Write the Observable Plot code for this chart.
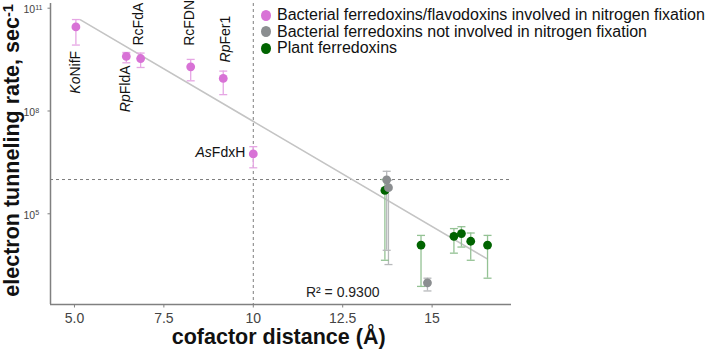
<!DOCTYPE html>
<html>
<head>
<meta charset="utf-8">
<script src="https://cdn.jsdelivr.net/npm/d3@7"></script>
<script src="https://cdn.jsdelivr.net/npm/@observablehq/plot@0.6"></script>
<style>
  body { margin: 0; background: #fff; font-family: "Liberation Sans", Arial, sans-serif; }
  #wrap { position: relative; width: 709px; height: 352px; }
  #legend { position: absolute; left: 261px; top: 7px; font-size: 16px; color: #111; line-height: 16.5px; }
  #legend .row { display: flex; align-items: center; white-space: nowrap; }
  #legend .sw { width: 10px; height: 11px; border-radius: 50%; margin-right: 6px; flex: none; }
</style>
</head>
<body>
<div id="wrap"><div id="chart"></div><div id="legend"></div></div>
<script>
// Protein groups and their colours
const groups = [
  "Bacterial ferredoxins/flavodoxins involved in nitrogen fixation",
  "Bacterial ferredoxins not involved in nitrogen fixation",
  "Plant ferredoxins"
];
const groupColors = ["#d872d6", "#8b8e90", "#006400"];
const barColors = ["#e6a6e4", "#b7b9bb", "#94c294"];

// Cofactor distance (Å) and electron tunneling rate (s^-1) with error range
const distance = [5.04, 6.45, 6.85, 8.25, 9.16, 10.0, 13.68, 13.73, 13.78, 14.69, 14.87, 15.61, 15.82, 16.08, 16.55];
const rate     = [2.85e10, 3.9e9, 3.4e9, 1.95e9, 8.9e8, 5.6e6, 4.8e5, 9.8e5, 5.8e5, 1.22e4, 9.7e2, 2.2e4, 2.64e4, 1.58e4, 1.22e4];
const rateLow  = [8.4e9, 2.55e9, 1.86e9, 7.6e8, 3.0e8, 2.2e6, 4.4e3, 8.6e3, 3.3e3, 7.6e2, 5.6e2, 7.1e3, 1.07e4, 4.4e3, 1.32e3];
const rateHigh = [4.66e10, 5.1e9, 4.9e9, 3.2e9, 1.46e9, 9.1e6, 1.0e6, 1.74e6, 9.5e5, 2.34e4, 1.32e3, 3.7e4, 4.2e4, 2.75e4, 2.34e4];
const groupIndex = [0, 0, 0, 0, 0, 0, 2, 1, 1, 2, 1, 2, 2, 2, 2];

// Names of the nitrogen-fixation proteins (italic organism prefix + protein)
const labelItalic = ["Ko", "Rp", "", "", "Rp", "As"];
const labelRoman  = ["NifF", "FldA", "RcFdA", "RcFDN", "Fer1", "FdxH"];

// Fitted log-linear trend and its goodness of fit
const fitDistance = [5.17, 16.53];
const fitRate = [4.57e10, 4.9e3];
const fitText = "R² = 0.9300";

// Axis ticks
const xTicks = [5, 7.5, 10, 12.5, 15];
const xTickLabels = ["5.0", "7.5", "10", "12.5", "15"];
const yTicks = [1e5, 1e8, 1e11];
const yTickLabels = ["10^5", "10^8", "10^11"];
const xTitle = "cofactor distance (Å)";
const yTitle = "electron tunneling rate, sec^-1";

// Reference guides: 10 Å and 10^6 s^-1
const guideDistance = [10];
const guideRate = [1e6];

const xDomain = [4.33, 17.22];
const yDomain = [10 ** 2.353, 10 ** 11.137];
// where the axis titles are centred
const xMid = 10.71;
const yMid = 10 ** 6.85;

const points = distance.map((x, i) => ({
  x, rate: rate[i], lo: rateLow[i], hi: rateHigh[i], g: groupIndex[i]
}));
const fit = fitDistance.map((x, i) => ({x, rate: fitRate[i]}));
const labels = labelRoman.map((r, i) => ({...points[i], text: labelItalic[i] + r}));

// Placement of each name relative to its point
const labelLayout = {
  KoNifF: {rotate: -90, anchor: "end", dx: 0, dy: 24},
  RpFldA: {rotate: -90, anchor: "end", dx: -1, dy: 9},
  RcFdA:  {rotate: -90, anchor: "start", dx: -2, dy: -13},
  RcFDN:  {rotate: -90, anchor: "start", dx: -1, dy: -21},
  RpFer1: {rotate: -90, anchor: "start", dx: 2, dy: -16},
  AsFdxH: {rotate: 0, anchor: "end", dx: -8, dy: -1}
};

// Short line symbols for error-bar caps and axis ticks
const capSymbol = {draw(ctx, size) { const w = Math.sqrt(size / Math.PI); ctx.moveTo(-w, 0); ctx.lineTo(w, 0); }};
const xTickSymbol = {draw(ctx) { ctx.moveTo(0, 0); ctx.lineTo(0, 3); }};
const yTickSymbol = {draw(ctx) { ctx.moveTo(0, 0); ctx.lineTo(-3, 0); }};

const axisGrey = "#808080";

const chart = Plot.plot({
  width: 709,
  height: 352,
  marginLeft: 50,
  marginRight: 198,
  marginTop: 3,
  marginBottom: 48,
  style: {fontFamily: "Liberation Sans, Arial, sans-serif", fontSize: "14px", background: "#fff", color: "#222", overflow: "visible"},
  x: {domain: xDomain, axis: null},
  y: {type: "log", domain: yDomain, axis: null},
  color: {type: "identity"},
  marks: [
    Plot.ruleX(guideDistance, {stroke: "#7d7d7d", strokeDasharray: "3,3", strokeWidth: 1}),
    Plot.ruleY(guideRate, {stroke: "#7d7d7d", strokeDasharray: "3,3", strokeWidth: 1}),
    Plot.ruleX([xDomain[0]], {stroke: axisGrey, strokeWidth: 1.5}),
    Plot.ruleY([yDomain[0]], {stroke: axisGrey, strokeWidth: 1.5}),
    Plot.dot(xTicks, {x: d => d, y: yDomain[0], symbol: xTickSymbol, stroke: axisGrey, strokeWidth: 1, fill: "none"}),
    Plot.dot(yTicks, {x: xDomain[0], y: d => d, symbol: yTickSymbol, stroke: axisGrey, strokeWidth: 1, fill: "none"}),
    Plot.line(fit, {x: "x", y: "rate", stroke: "#c4c4c4", strokeWidth: 1.6}),
    Plot.ruleX(points, {x: "x", y1: "lo", y2: "hi", stroke: d => barColors[d.g], strokeWidth: 1.3}),
    Plot.dot(points, {x: "x", y: "lo", symbol: capSymbol, r: 4, stroke: d => barColors[d.g], strokeWidth: 1.3, fill: "none"}),
    Plot.dot(points, {x: "x", y: "hi", symbol: capSymbol, r: 4, stroke: d => barColors[d.g], strokeWidth: 1.3, fill: "none"}),
    Plot.dot(points, {x: "x", y: "rate", r: 4.4, fill: d => groupColors[d.g], stroke: "none"}),
    ...labels.map(l => {
      const p = labelLayout[l.text];
      return Plot.text([l], {x: "x", y: "rate", text: "text", rotate: p.rotate, textAnchor: p.anchor,
        dx: p.dx, dy: p.dy, fontSize: 14, fill: "#111"});
    }),
    Plot.text(xTicks, {x: d => d, y: yDomain[0], text: (d, i) => xTickLabels[i], dy: 14, fontSize: 14, fill: "#444"}),
    Plot.text(yTicks, {x: xDomain[0], y: d => d, text: (d, i) => yTickLabels[i], textAnchor: "start", dx: -27, dy: 1.5, fontSize: 10.5, fill: "#444"}),
    Plot.text([yTitle], {x: xDomain[0], y: yMid, text: d => d, rotate: -90, textAnchor: "middle", lineAnchor: "middle",
      dx: -38, fontSize: 21.5, fontWeight: "bold", fill: "#111"}),
    Plot.text([xTitle], {x: xMid, y: yDomain[0], text: d => d, textAnchor: "middle", lineAnchor: "middle",
      dy: 33, fontSize: 21.5, fontWeight: "bold", fill: "#111"}),
    Plot.text([fitText], {x: 12.5, y: 500, text: d => d, fontSize: 14, fill: "#222"})
  ]
});

// Superscripts ("a^b") and italic organism prefixes
const italicPrefix = new Map(labelRoman.map((r, i) => [labelItalic[i] + r, labelItalic[i].length]));
d3.select(chart).selectAll("text").each(function () {
  const t = this.textContent;
  const sel = d3.select(this);
  if (t.includes("^")) {
    const [base, exp] = t.split("^");
    sel.text(base);
    sel.append("tspan").attr("dy", "-0.45em").attr("font-size", "0.68em").text(exp);
  } else if (italicPrefix.has(t) && italicPrefix.get(t) > 0) {
    const n = italicPrefix.get(t);
    sel.text("");
    sel.append("tspan").attr("font-style", "italic").text(t.slice(0, n));
    sel.append("tspan").text(t.slice(n));
  }
});

document.getElementById("chart").appendChild(chart);

// Legend
const legend = d3.select("#legend");
groups.forEach((g, i) => {
  const row = legend.append("div").attr("class", "row");
  row.append("span").attr("class", "sw").style("background", groupColors[i]);
  row.append("span").text(g);
});
</script>
</body>
</html>
